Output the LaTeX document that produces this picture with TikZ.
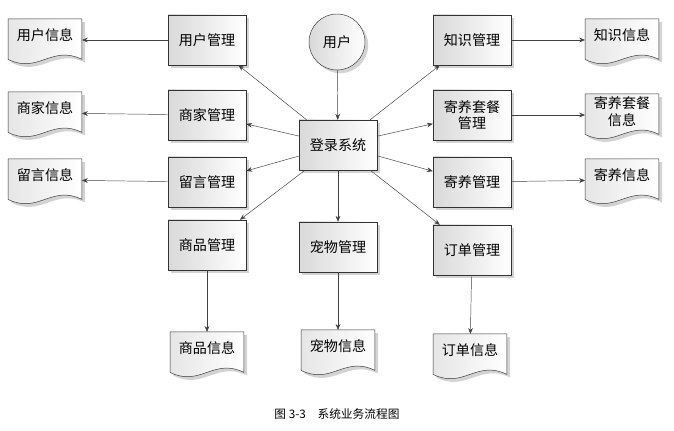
\documentclass[tikz,border=0pt]{standalone}
\usepackage{fontspec}
\setmainfont{Noto Sans CJK SC}
\usetikzlibrary{arrows.meta,shadows,calc}

\begin{document}
\begin{tikzpicture}[x=0.03cm,y=-0.03cm,
	mgmt/.style={draw=black!80,left color=black!15,right color=white,drop shadow={opacity=0.35},minimum width=2.34cm,minimum height=1.5cm,align=center,font=\large,inner sep=1pt},
	docbox/.style={minimum width=2.2cm,minimum height=1.25cm,align=center,inner sep=1pt},
	docline/.style={draw=black!80,left color=black!10,right color=white,drop shadow={opacity=0.35}},
	doctext/.style={font=\large,align=center,inner sep=0pt},
	flow/.style={draw=black!75,-{Stealth[length=5pt,width=4pt]}}]
	\useasboundingbox (0,0) rectangle (674,431);
	% user and login
	\node [circle,draw=black!80,left color=black!15,right color=white,drop shadow={opacity=0.35},minimum size=1.68cm,font=\large] (user) at (337,42) {用户};
	\node [mgmt] (login) at (338,145) {登录系统};
	% management boxes
	\node [mgmt] (um) at (207,40) {用户管理};
	\node [mgmt] (sm) at (207,115) {商家管理};
	\node [mgmt] (lm) at (207,182) {留言管理};
	\node [mgmt] (gm) at (207,245) {商品管理};
	\node [mgmt] (pm) at (338,247) {宠物管理};
	\node [mgmt] (km) at (472,40) {知识管理};
	\node [mgmt] (tm) at (472,115) {寄养套餐\\管理};
	\node [mgmt] (fm) at (472,182) {寄养管理};
	\node [mgmt] (om) at (472,250) {订单管理};
	% info documents
	\node [docbox] (ui) at (45,40) {};
	\node [docbox] (si) at (45,113) {};
	\node [docbox] (li) at (45,180) {};
	\node [docbox] (gi) at (207,353) {};
	\node [docbox] (pi) at (338,351) {};
	\node [docbox] (oi) at (470,355) {};
	\node [docbox] (ki) at (622,40) {};
	\node [docbox] (ti) at (622,115) {};
	\node [docbox] (fi) at (622,180) {};
	\foreach \n in {ui,si,li,gi,pi,oi,ki,ti,fi}
		\path [docline] (\n.north west) -- (\n.north east) -- ($(\n.south east)+(0cm,0.05cm)$)
			.. controls +(-0.9cm,0.45cm) and +(0.9cm,-0.45cm) .. ($(\n.south west)+(0cm,0.05cm)$) -- cycle;
	\node [doctext] at ([yshift=4pt]ui) {用户信息};
	\node [doctext] at ([yshift=4pt]si) {商家信息};
	\node [doctext] at ([yshift=4pt]li) {留言信息};
	\node [doctext] at ([yshift=4pt]gi) {商品信息};
	\node [doctext] at ([yshift=4pt]pi) {宠物信息};
	\node [doctext] at ([yshift=4pt]oi) {订单信息};
	\node [doctext] at ([yshift=4pt]ki) {知识信息};
	\node [doctext] at ([yshift=3pt]ti) {寄养套餐\\信息};
	\node [doctext] at ([yshift=4pt]fi) {寄养信息};
	% connectors
	\draw [flow] (user) -- (login);
	\foreach \m in {um,sm,lm,gm,pm,km,tm,fm,om}
		\draw [flow] (login) -- (\m);
	\draw [flow] (um) -- (ui);
	\draw [flow] (sm) -- (si);
	\draw [flow] (lm) -- (li);
	\draw [flow] (gm) -- (gi);
	\draw [flow] (pm) -- (pi);
	\draw [flow] (om) -- (oi);
	\draw [flow] (km) -- (ki);
	\draw [flow] (tm) -- (ti);
	\draw [flow] (fm) -- (fi);
	% caption
	\node [font=\normalsize] (cap) at (337,414) {图 3-3\quad 系统业务流程图};
\end{tikzpicture}
\end{document}
